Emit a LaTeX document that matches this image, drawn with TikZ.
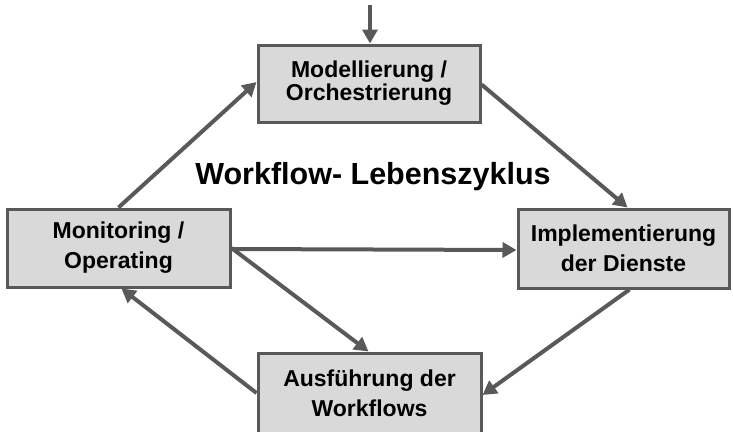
\documentclass[tikz,border=0pt]{standalone}
\usepackage{fontspec}
\setmainfont{Liberation Sans}
\usetikzlibrary{arrows.meta}
\definecolor{boxfill}{HTML}{D9D9D9}
\definecolor{edgegray}{HTML}{595959}
\begin{document}
\begin{tikzpicture}[x=1pt,y=-1pt,
  phase/.style={draw=edgegray, fill=boxfill, line width=3pt, align=center,
    inner sep=0pt, font=\fontsize{23}{30}\selectfont\bfseries},
  tightphase/.style={phase, font=\fontsize{23}{23}\selectfont\bfseries},
  flow/.style={draw=edgegray, line width=4pt,
    -{Triangle[length=14pt,width=15pt]}}]
  \useasboundingbox (0,0) rectangle (733,431);

  % the four phases of the cycle
  \node[tightphase, minimum width=222pt, minimum height=77pt] (mod) at (369,83.5)
    {Modellierung /\\Orchestrierung};
  \node[phase, minimum width=223pt, minimum height=78pt] (mon) at (118.5,248)
    {Monitoring /\\Operating};
  \node[phase, minimum width=211pt, minimum height=79pt] (impl) at (623.5,248.5)
    {Implementierung\\der Dienste};
  \node[phase, minimum width=223pt, minimum height=80pt] (aus) at (369.5,393)
    {Ausführung der\\Workflows};

  % title in the middle
  \node[font=\fontsize{30.5}{32}\selectfont\bfseries] (title) at (373,177)
    {Workflow- Lebenszyklus};

  % entry point
  \coordinate (entry) at (370,5);
  \draw[flow] (entry) -- ([xshift=1pt]mod.north);

  % transitions
  \draw[flow] (mon.north) -- ([yshift=1.5pt]mod.west);
  \draw[flow] ([yshift=-1pt]mod.east) -- ([xshift=4pt]impl.north);
  \draw[flow] ([yshift=-1pt]mon.east) -- ([yshift=-1.5pt]impl.west);
  \draw[flow] (mon.east) -- ([xshift=-1pt]aus.north);
  \draw[flow] ([xshift=6pt]impl.south) -- ([yshift=-2pt]aus.east);
  \draw[flow] (aus.west) -- ([xshift=3pt]mon.south);
\end{tikzpicture}
\end{document}
